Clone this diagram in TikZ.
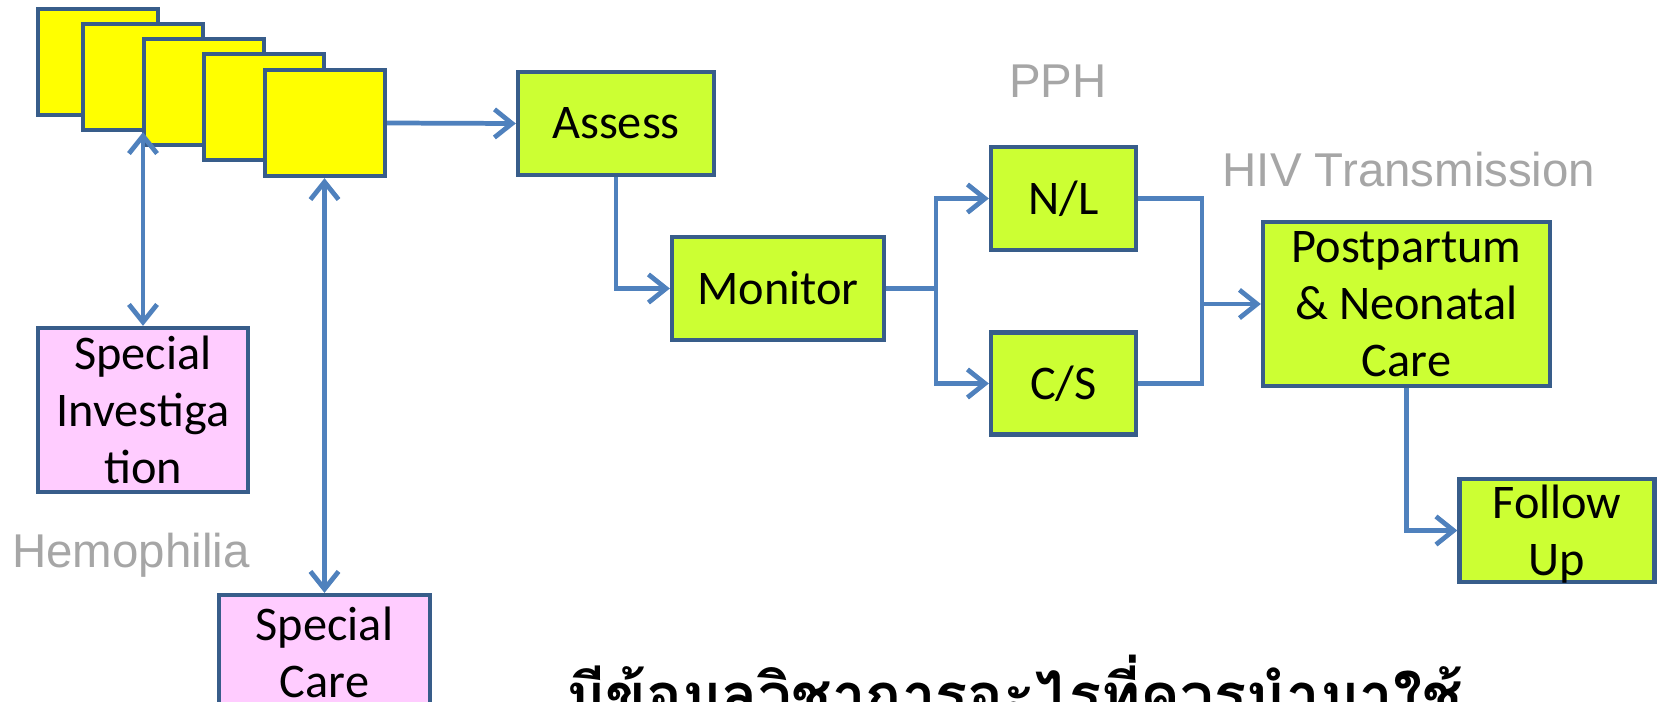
\documentclass[tikz,border=0pt]{standalone}
\usepackage{fontspec}
\setmainfont{Carlito}
\newfontfamily\grayfont{Liberation Sans}
\newfontfamily\thaifont[Script=Thai]{Loma}
\usetikzlibrary{arrows.meta}
\definecolor{boxline}{HTML}{385D8A}
\definecolor{arrowblue}{HTML}{4F81BD}
\definecolor{limefill}{HTML}{CCFF33}
\definecolor{pinkfill}{HTML}{FFCCFF}
\definecolor{paperfill}{HTML}{FFFF00}
\definecolor{labelgray}{HTML}{A6A6A6}
\tikzset{
  stepbox/.style={draw=boxline, line width=2.5pt, fill=limefill, align=center,
    inner sep=1pt, font=\fontsize{27.5}{32.5}\selectfont},
  notebox/.style={stepbox, fill=pinkfill},
  paperbox/.style={draw=boxline, line width=2.5pt, fill=paperfill,
    minimum width=2.4cm, minimum height=2.12cm},
  grayword/.style={text=labelgray, font=\grayfont\fontsize{27}{31}\selectfont, anchor=base},
  arr/.style={draw=arrowblue, line width=2.7pt, -{Straight Barb[length=10pt,width=16pt,line width=2.7pt]}},
  twoarr/.style={arr, {Straight Barb[length=10pt,width=16pt,line width=2.7pt]}-{Straight Barb[length=10pt,width=16pt,line width=2.7pt]}},
  link/.style={draw=arrowblue, line width=2.7pt}
}
\begin{document}
\begin{tikzpicture}[x=0.02cm,y=-0.02cm]
  %ramme
  	\useasboundingbox (0,0) rectangle (1659,702);
  	\fill[white] (0,0) rectangle (1659,702);

  %stak af papirer
  	\foreach \i/\x/\y in {1/98/62, 2/143/77, 3/204/92, 4/264/107, 5/325/123}
  		\node[paperbox] (y\i) at (\x,\y) {};

  %forloeb
  	\node[stepbox, minimum width=3.92cm, minimum height=2.06cm] (assess) at (616,123.5) {Assess};
  	\node[stepbox, minimum width=4.24cm, minimum height=2.06cm] (monitor) at (778,288.5) {Monitor};
  	\node[stepbox, minimum width=2.9cm, minimum height=2.06cm] (nl) at (1063.5,198.5) {N/L};
  	\node[stepbox, minimum width=2.9cm, minimum height=2.04cm] (cs) at (1063.5,383.5) {C/S};
  	\node[stepbox, minimum width=5.74cm, minimum height=3.28cm] (post) at (1406.5,304) {Postpartum\\\& Neonatal\\Care};
  	\node[stepbox, minimum width=3.9cm, minimum height=2.06cm, text depth=0pt] (follow) at (1557,530.5) {Follow\\Up};

  %saerlige bokse
  	\node[notebox, minimum width=4.2cm, minimum height=3.28cm] (inv) at (143,410) {Special\\Investiga\\tion};
  	\node[notebox, minimum width=4.22cm, minimum height=2.28cm] (care) at (324.5,652) {Special\\Care};

  %graa ord
  	\node[grayword] (pph) at (1058,98) {PPH};
  	\node[grayword] (hiv) at (1409,187) {HIV Transmission};
  	\node[grayword] (hemo) at (131,567) {Hemophilia};

  %pile
  	\draw[arr] (y5.east) -- (assess.west);
  	\draw[arr] (assess.south) |- (monitor.west);
  	\coordinate (fork) at (936,288.5);
  	\draw[link] (monitor.east) -- (fork);
  	\draw[arr] (fork) |- (nl.west);
  	\draw[arr] (fork) |- (cs.west);
  	\coordinate (join) at (1202,304);
  	\draw[link] (nl.east) -| (join) |- (cs.east);
  	\draw[arr] (join) -- (post.west);
  	\draw[arr] (post.south) |- (follow.west);
  	\draw[twoarr] (inv.north) -- (inv.north |- y2.south);
  	\draw[twoarr] (care.north) -- (care.north |- y5.south);

  %thai tekst nederst
  	\node[anchor=base west, inner sep=0pt, font=\thaifont\bfseries\fontsize{34}{40}\selectfont] (question) at (566,716) {มีข้อมูลวิชาการอะไรที่ควรนำมาใช้};
\end{tikzpicture}
\end{document}
